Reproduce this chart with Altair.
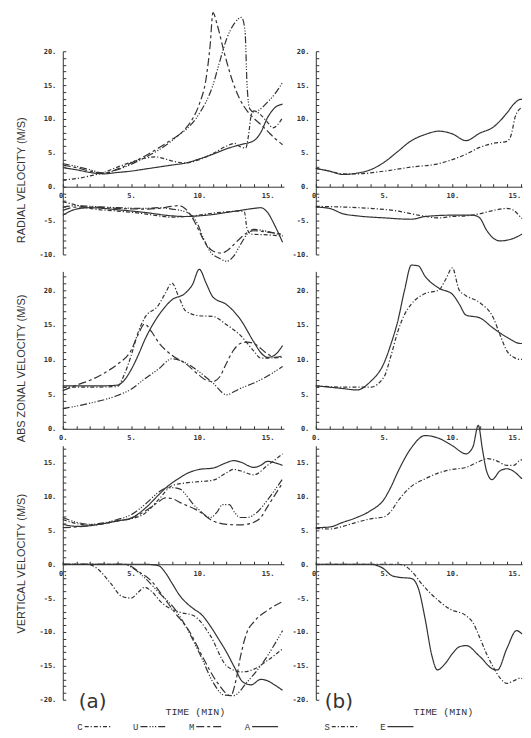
import altair as alt
import pandas as pd

# ---------------- data: (time [min], velocity [m/s]) ----------------
# Panel (a): experiments C, U, M, A
rad_a_max = {
    "A": [(0, 2.8), (1, 2.5), (2, 2.1), (3, 1.9), (4, 2.1), (5, 2.3), (6, 2.6), (7, 2.9), (8, 3.2), (9, 3.5),
          (10, 4.1), (11, 4.8), (12, 5.6), (13, 6.2), (14, 6.8), (14.5, 8.0), (15, 10.2), (15.5, 11.6), (16.1, 12.2)],
    "U": [(0, 3.4), (1, 3.0), (2, 2.5), (3, 2.0), (4, 2.5), (5, 3.3), (6, 4.3), (7, 5.4), (8, 6.8), (8.6, 7.8),
          (9, 8.4), (10, 10.8), (11, 15.0), (11.5, 18.5), (12, 21.8), (12.6, 24.2), (13.1, 25.0), (13.35, 23.0),
          (13.5, 15.0), (13.7, 11.5), (14, 11.0), (14.5, 11.5), (15, 12.5), (15.5, 13.6), (16.1, 15.4)],
    "M": [(0, 3.2), (1, 2.8), (2, 2.3), (3, 2.0), (4, 2.6), (5, 3.5), (6, 4.5), (7, 5.7), (8, 7.0), (8.6, 7.8),
          (9, 8.6), (9.5, 10.0), (10, 12.2), (10.5, 16.0), (10.8, 21.0), (11.0, 25.7), (11.3, 24.0), (11.8, 20.0),
          (12.5, 15.2), (13, 12.8), (13.5, 11.2), (14, 10.1), (14.5, 9.2), (15, 8.2), (15.5, 7.2), (16.1, 6.2)],
    "C": [(0, 1.0), (1, 1.2), (2, 1.6), (3, 2.1), (4, 2.9), (5, 3.6), (6, 4.2), (6.8, 4.4), (7.5, 4.1), (8, 3.8),
          (9, 3.5), (10, 4.0), (11, 4.9), (12, 6.0), (12.6, 6.4), (13, 5.9), (13.4, 5.7), (13.6, 7.5), (13.8, 10.5),
          (14, 11.2), (14.5, 10.6), (15, 9.5), (15.4, 8.7), (16.1, 10.2)],
}
rad_a_min = {
    "A": [(0, -4.2), (1, -3.3), (2, -3.1), (4, -3.4), (6, -3.8), (8, -4.3), (9, -4.4), (10, -4.3), (11, -4.1),
          (12, -3.8), (13, -3.5), (14, -3.2), (14.5, -3.1), (15, -3.8), (15.5, -5.6), (16.1, -8.2)],
    "M": [(0, -3.5), (1, -3.0), (2, -3.0), (4, -3.2), (6, -3.3), (7, -3.2), (8, -2.9), (8.5, -2.8), (9, -3.3),
          (9.5, -4.6), (10, -6.6), (10.5, -8.5), (11, -9.5), (11.6, -9.8), (12, -9.5), (12.5, -8.6), (13, -7.6),
          (13.5, -6.8), (14, -6.5), (15, -6.7), (16.1, -7.0)],
    "U": [(0, -3.0), (1, -2.8), (2, -2.9), (4, -3.1), (6, -3.2), (7, -3.1), (8, -3.3), (9, -3.7), (9.8, -5.2),
          (10.3, -7.6), (10.8, -9.6), (11.5, -10.6), (12, -11.0), (12.5, -10.3), (13, -8.6), (13.5, -7.0),
          (14, -6.3), (15, -6.6), (16.1, -7.2)],
    "C": [(0, -2.2), (1, -2.7), (2, -3.2), (4, -3.6), (6, -4.0), (7, -4.3), (8, -4.5), (9, -4.4), (10, -4.2),
          (11, -3.9), (12, -3.7), (13, -3.6), (13.3, -3.7), (13.5, -6.2), (13.8, -7.0), (15, -7.1), (16.1, -7.3)],
}
zon_a = {
    "A": [(0, 6.2), (1, 6.2), (2, 6.2), (3, 6.2), (4, 6.3), (4.5, 7.0), (5, 8.5), (5.5, 10.5), (6, 12.8), (7, 16.3),
          (8, 18.6), (9, 19.6), (9.5, 20.8), (10, 23.0), (10.5, 21.0), (11, 19.0), (12, 17.9), (13, 15.8), (14, 12.5),
          (14.5, 11.0), (15, 10.3), (15.5, 10.6), (16.1, 12.0)],
    "M": [(0, 5.5), (1, 6.3), (2, 7.0), (3, 8.0), (4, 9.3), (5, 11.3), (5.5, 13.5), (6, 15.1), (6.5, 14.0), (7, 12.5),
          (8, 10.6), (9, 9.4), (10, 7.7), (10.5, 7.0), (11, 6.8), (11.5, 7.5), (12, 9.5), (12.5, 11.3), (13, 12.3),
          (13.5, 12.5), (14, 12.3), (15, 10.8), (15.5, 10.3), (16.1, 10.5)],
    "U": [(0, 2.9), (2, 3.7), (4, 4.8), (5, 5.7), (6, 7.2), (7, 8.6), (8, 10.1), (9, 9.5), (10, 8.2), (11, 6.6),
          (12, 4.9), (12.5, 5.3), (13, 5.8), (14, 6.6), (15, 7.6), (16.1, 9.0)],
    "C": [(0, 6.0), (2, 6.0), (4, 6.1), (4.5, 7.8), (5, 10.5), (5.5, 13.8), (6, 16.0), (7, 17.8), (7.5, 19.5),
          (8, 21.0), (8.5, 19.0), (9, 17.0), (10, 16.3), (11, 16.2), (12, 15.0), (13, 13.5), (14, 11.2), (14.5, 10.2),
          (15, 10.2), (16.1, 10.3)],
}
ver_a_max = {
    "A": [(0, 5.9), (1, 5.6), (2, 5.7), (3, 6.0), (4, 6.4), (5, 6.8), (6, 8.2), (7, 10.2), (7.5, 11.2), (8, 12.0),
          (8.6, 12.8), (9, 13.3), (10, 14.0), (11, 14.2), (12, 15.0), (12.5, 15.3), (13, 15.1), (14, 14.3),
          (14.5, 14.6), (15, 15.2), (15.5, 15.0), (16.1, 14.6)],
    "C": [(0, 6.6), (1, 6.0), (2, 5.8), (3, 6.0), (4, 6.4), (5, 6.7), (6, 7.5), (7, 9.5), (8, 11.6), (9, 12.0),
          (10, 12.2), (11, 12.4), (12, 13.5), (12.5, 14.0), (13, 13.8), (14, 13.2), (15, 14.6), (16.1, 16.3)],
    "U": [(0, 6.9), (1, 6.2), (2, 5.9), (3, 6.1), (4, 6.6), (5, 7.3), (6, 8.8), (7, 10.6), (7.5, 11.2), (8, 11.3),
          (8.6, 11.1), (9, 10.3), (9.5, 9.0), (10, 8.0), (10.8, 6.9), (11.3, 7.7), (11.7, 8.8), (12.2, 8.8),
          (12.6, 7.6), (13, 6.9), (13.5, 6.9), (14.2, 7.6), (15, 9.5), (16.1, 12.6)],
    "M": [(0, 5.4), (1, 5.5), (2, 5.7), (3, 6.0), (4, 6.4), (5, 6.8), (6, 7.8), (7, 9.2), (7.5, 9.8), (8, 9.7),
          (8.6, 9.1), (10, 7.8), (11, 6.4), (12, 5.9), (13, 5.8), (14, 6.2), (14.5, 6.9), (15, 8.5), (16.1, 12.0)],
}
ver_a_min = {
    "A": [(0, 0), (6, 0), (7, -0.2), (7.5, -1.2), (8, -2.8), (8.6, -4.7), (9, -5.6), (9.6, -6.6), (10.2, -7.5),
          (10.8, -9.1), (11.4, -11.0), (12, -13.0), (12.6, -15.3), (13.2, -17.4), (13.8, -17.8), (14.5, -17.0),
          (15, -17.2), (15.5, -17.8), (16.1, -18.6)],
    "M": [(0, 0), (4.5, 0), (5, -0.3), (5.5, -1.0), (6.5, -2.5), (7.5, -5.2), (8.2, -7.1), (9.3, -10.0),
          (10.2, -13.5), (11.3, -17.4), (12.3, -19.4), (12.7, -17.0), (13, -13.8), (13.5, -10.0), (14, -8.5),
          (15, -6.8), (16.1, -5.5)],
    "U": [(0, 0), (4.5, 0), (5, -0.4), (6, -2.0), (7, -4.1), (8.2, -6.6), (9.1, -9.5), (10.1, -13.5), (11, -17.4),
          (11.8, -19.3), (12.5, -19.4), (13.5, -17.4), (14.7, -14.4), (16.1, -9.8)],
    "C": [(0, 0), (1.8, 0), (2.5, -0.6), (3.5, -2.8), (4.3, -4.7), (5, -5.0), (5.5, -4.2), (6, -3.4), (6.5, -4.0),
          (7.2, -5.6), (8.6, -7.1), (9.6, -7.6), (10.8, -10.5), (12, -15.0), (13.1, -15.9), (14, -15.5),
          (15, -14.2), (16.1, -12.5)],
}

# Panel (b): experiments S, E (the scan is cut off at about 15 min)
rad_b_max = {
    "E": [(0, 2.7), (1, 2.3), (2, 1.8), (3, 2.0), (4, 2.5), (5, 3.6), (6, 5.2), (7, 6.8), (8, 7.7), (9, 8.2),
          (10, 7.8), (11, 6.8), (12, 7.9), (13, 8.8), (14, 10.9), (14.5, 12.2), (15, 12.9), (15.1, 12.9)],
    "S": [(0, 2.7), (1, 2.3), (2, 1.9), (3, 1.9), (5, 2.3), (7, 2.9), (9, 3.4), (10, 4.0), (11, 4.8), (12, 5.8),
          (13, 6.4), (14, 6.7), (14.3, 7.6), (14.6, 10.3), (15, 11.6), (15.1, 11.8)],
}
rad_b_min = {
    "E": [(0, -3.0), (1, -3.2), (2, -4.0), (3, -4.3), (5, -4.6), (7, -4.8), (8, -4.4), (10, -4.2), (11.5, -4.2),
          (12, -4.6), (12.5, -6.4), (13, -7.6), (13.5, -8.0), (14.5, -7.6), (15.1, -7.0)],
    "S": [(0, -2.9), (2, -3.0), (4, -3.2), (6, -3.6), (7.5, -4.2), (9, -4.6), (10, -4.4), (11, -4.3), (12, -4.0),
          (13, -3.5), (14, -3.2), (14.5, -3.5), (15, -4.5), (15.1, -4.7)],
}
zon_b = {
    "E": [(0, 6.2), (1, 6.0), (2, 5.8), (3, 5.6), (4, 6.8), (5, 9.5), (5.5, 12.2), (6, 15.5), (6.5, 20.0), (7, 23.6),
          (7.5, 23.5), (8, 22.0), (9, 20.3), (10, 19.4), (10.5, 18.0), (11, 16.4), (12, 16.0), (13, 14.5),
          (14, 13.2), (15, 12.3), (15.1, 12.3)],
    "S": [(0, 6.2), (2, 6.0), (3, 6.0), (4, 6.0), (5, 7.5), (5.5, 10.5), (6, 14.0), (6.5, 16.5), (7, 18.0), (8, 19.5),
          (9, 20.0), (9.5, 21.5), (10, 23.2), (10.5, 20.0), (11, 19.2), (12, 18.2), (13, 16.0), (13.5, 13.5),
          (14, 11.2), (14.5, 10.3), (15, 10.0), (15.1, 10.0)],
}
ver_b_max = {
    "E": [(0, 5.4), (1, 5.5), (2, 6.2), (3, 6.9), (4, 7.9), (5, 9.6), (5.5, 11.4), (6, 13.6), (7, 17.2), (8, 19.0),
          (9, 18.6), (10, 17.5), (11, 16.3), (11.5, 17.3), (11.9, 20.5), (12.2, 17.0), (12.5, 13.8), (12.9, 12.5),
          (13.5, 13.8), (14, 14.1), (14.5, 13.7), (15, 12.8), (15.1, 12.6)],
    "S": [(0, 5.3), (1, 5.2), (2, 5.6), (3, 6.2), (4, 6.7), (5, 7.0), (5.5, 7.8), (6, 9.3), (7, 11.5), (8, 12.6),
          (9, 13.5), (10, 14.0), (11, 14.3), (12, 15.2), (12.6, 15.6), (13.2, 15.3), (14, 14.6), (14.5, 14.6),
          (15, 15.4), (15.1, 15.4)],
}
ver_b_min = {
    "E": [(0, 0), (4, 0), (4.5, -0.2), (5, -0.7), (5.5, -1.6), (6, -1.9), (7, -2.1), (7.5, -3.5), (8, -8.0),
          (8.5, -13.5), (8.9, -15.6), (9.5, -14.6), (10, -13.2), (10.5, -12.2), (11, -12.0), (12, -13.6),
          (13, -15.5), (13.3, -15.6), (14, -12.4), (14.7, -9.8), (15.1, -10.3)],
    "S": [(0, 0), (6, 0), (6.5, -0.2), (7, -1.0), (7.8, -3.0), (9, -5.4), (9.8, -6.6), (11, -7.6), (11.5, -8.6),
          (12, -10.8), (12.5, -13.2), (13, -15.2), (13.5, -16.8), (14, -17.6), (14.5, -17.2), (15, -16.8),
          (15.1, -16.9)],
}

SERIES_A = ["C", "U", "M", "A"]
SERIES_B = ["S", "E"]
DASH = {"C": [4, 2, 1.2, 2], "U": [7, 2, 1.2, 1.6, 1.2, 1.6, 1.2, 2], "M": [8, 3, 3, 3], "A": [1, 0],
        "S": [4, 2, 1.2, 2], "E": [1, 0]}

INK = "#333333"
MONO = "DejaVu Sans Mono"
TYPE = "Liberation Mono"


def frame(parts):
    rows = []
    for part, d in parts.items():
        for s, pts in d.items():
            for t, v in pts:
                rows.append({"t": t, "v": v, "series": s, "part": part})
    return pd.DataFrame(rows)


def x_axis(xmax, offset):
    return alt.Axis(orient="bottom", offset=offset, values=list(range(0, int(xmax) + 1)),
                    labelExpr="datum.value % 5 === 0 ? datum.value + '.' : ''",
                    labelFlush=False, labelOverlap=False, labelFont=MONO, labelFontSize=7,
                    labelAlign={"condition": {"test": f"datum.value >= {xmax} - 0.5", "value": "right"},
                                "value": "center"},
                    labelFontWeight="bold", labelColor=INK, labelPadding=8, tickSize={"expr": "-3"},
                    tickColor=INK, domainColor=INK, grid=False, title=None)


def y_axis(lo, hi, title, title_y):
    kw = dict(values=list(range(lo, hi + 1)),
              labelExpr="datum.value % 5 === 0 ? datum.value + '.' : ''",
              labelOverlap=False, labelFlush=False, labelFont=MONO, labelFontSize=7, labelFontWeight="bold",
              labelColor=INK, labelPadding=10, tickSize={"expr": "-3"}, tickColor=INK, domainColor=INK,
              grid=False)
    if title:
        kw.update(title=title, titleFont="Liberation Sans", titleFontSize=11, titleFontWeight="normal",
                  titleColor=INK, titleX=-36, titleY=title_y, titleAngle=270, titleBaseline="bottom",
                  titleAlign="center")
    else:
        kw["title"] = None
    return alt.Axis(**kw)


def panel(df, dom, height, width, xmax, series, zero_off, ytitle=None, title_y=None, legend=None, extras=()):
    lines = alt.Chart(df).mark_line(color=INK, strokeWidth=1.2, interpolate="monotone", clip=False,
                                    strokeJoin="round").encode(
        x=alt.X("t:Q", scale=alt.Scale(domain=[0, xmax], nice=False, zero=False), axis=x_axis(xmax, zero_off)),
        y=alt.Y("v:Q", scale=alt.Scale(domain=dom, nice=False, zero=False),
                axis=y_axis(int(dom[0]), int(dom[1]), ytitle, title_y)),
        strokeDash=alt.StrokeDash("series:N", scale=alt.Scale(domain=series, range=[DASH[s] for s in series]),
                                  legend=legend),
        detail="part:N",
    )
    ch = alt.layer(lines, *extras) if extras else lines
    return ch.properties(width=width, height=height)


def label(text, x, y, font, size, align="center"):
    return alt.Chart(pd.DataFrame({"k": [0]})).mark_text(
        text=text, font=font, fontSize=size, color=INK, align=align, baseline="middle"
    ).encode(x=alt.value(x), y=alt.value(y))


def legend_cfg(x):
    return alt.Legend(orient="none", legendX=x, legendY=268, direction="horizontal", title=None, padding=0,
                      symbolType="stroke", symbolSize=676, symbolStrokeWidth=1.2, symbolStrokeColor=INK,
                      labelFont=TYPE, labelFontSize=9, labelColor=INK, labelAlign="right",
                      labelOffset={"expr": "-29"}, columnPadding=19)


XA, XB = 16.2, 15.1
WA, WB = 222, 207
H_RAD, H_ZON, H_VER = 204, 158, 255

panels = [
    panel(frame({"max": rad_a_max, "min": rad_a_min}), [-10, 20], H_RAD, WA, XA, SERIES_A, -68,
          "RADIAL VELOCITY (M/S)", 129),
    panel(frame({"max": rad_b_max, "min": rad_b_min}), [-10, 20], H_RAD, WB, XB, SERIES_B, -68),
    panel(frame({"all": zon_a}), [0, 22.7], H_ZON, WA, XA, SERIES_A, 0, "ABS ZONAL VELOCITY (M/S)", 97),
    panel(frame({"all": zon_b}), [0, 22.7], H_ZON, WB, XB, SERIES_B, 0),
    panel(frame({"max": ver_a_max, "min": ver_a_min}), [-20, 17.5], H_VER, WA, XA, SERIES_A, -136,
          "VERTICAL VELOCITY (M/S)", 118, legend=legend_cfg(21),
          extras=(label("(a)", 16, 257, "DejaVu Sans", 20, "left"),
                  label("TIME (MIN)", 133, 267, TYPE, 10))),
    panel(frame({"max": ver_b_max, "min": ver_b_min}), [-20, 17.5], H_VER, WB, XB, SERIES_B, -136,
          legend=legend_cfg(15),
          extras=(label("(b)", 9, 257, "DejaVu Sans", 20, "left"),
                  label("TIME (MIN)", 128, 267, TYPE, 10))),
]

chart = alt.concat(
    *panels, columns=2, spacing={"row": 17, "column": 32}, bounds="flush", align="each"
).resolve_scale(
    strokeDash="independent"
).properties(
    padding={"left": 8, "top": 2, "right": 0, "bottom": 0}, background="white"
).configure_view(stroke=None)

chart.save("out.html", embed_options={"renderer": "svg", "actions": False})
